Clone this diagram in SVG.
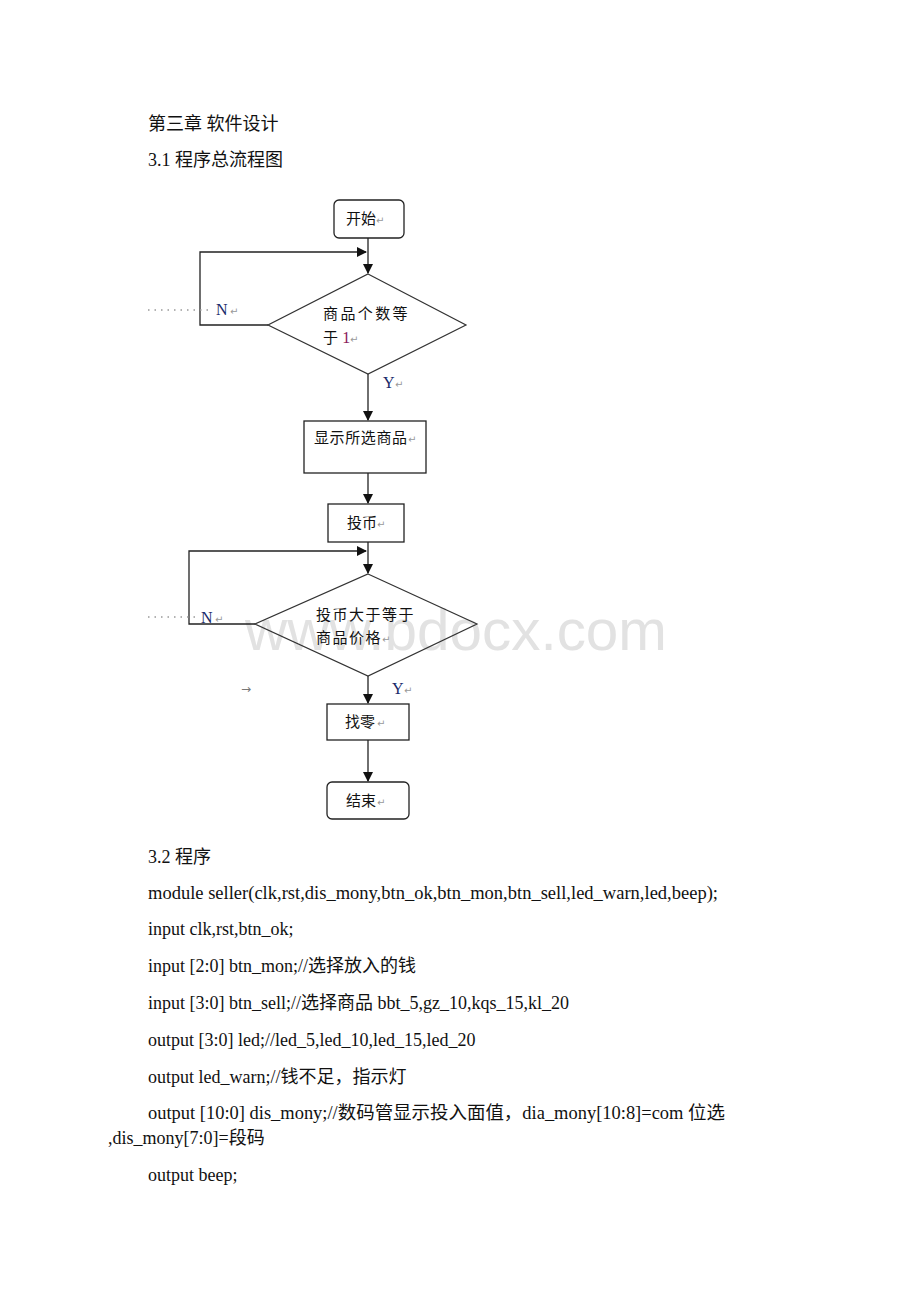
<svg xmlns="http://www.w3.org/2000/svg" width="920" height="1302" viewBox="0 0 920 1302">
<defs>
<marker id="ah" markerWidth="10" markerHeight="10" refX="9" refY="5" orient="auto" markerUnits="userSpaceOnUse">
<path d="M0,0 L10,5 L0,10 Z" fill="#111"/>
</marker>
<style>
.doc{font-family:"Liberation Serif","Noto Sans CJK SC",serif;font-size:18px;fill:#111}
.fc{font-family:"Liberation Sans","Noto Sans CJK SC",sans-serif;font-size:15px;fill:#111}
.lbl{font-family:"Liberation Serif",serif;font-size:16px;fill:#1a2a6a}
.pm{font-family:"DejaVu Sans",sans-serif;font-size:10px;fill:#999}
.box{fill:#fff;stroke:#222;stroke-width:1.3}
.dia{fill:none;stroke:#333;stroke-width:1.2}
.ln{fill:none;stroke:#222;stroke-width:1.3}
.dot{stroke:#999;stroke-width:1.4;stroke-dasharray:1.5,5}
.wm{font-family:"Liberation Sans",sans-serif;font-size:58px;fill:#e2e2e2}
</style>
</defs>
<rect width="920" height="1302" fill="#fff"/>

<text class="wm" x="245" y="650" textLength="422" lengthAdjust="spacingAndGlyphs">www.bdocx.com</text>

<g id="headings">
<text class="doc" x="148" y="130">第三章 软件设计</text>
<text class="doc" x="148" y="166">3.1 程序总流程图</text>
</g>

<g id="connectors">
<line class="ln" x1="368" y1="238" x2="368" y2="273" marker-end="url(#ah)"/>
<polyline class="ln" points="268,325 200,325 200,252 366,252" marker-end="url(#ah)"/>
<line class="ln" x1="368" y1="374" x2="368" y2="420" marker-end="url(#ah)"/>
<line class="ln" x1="368" y1="473" x2="368" y2="503" marker-end="url(#ah)"/>
<line class="ln" x1="368" y1="542" x2="368" y2="573" marker-end="url(#ah)"/>
<polyline class="ln" points="255,624 189,624 189,551 366,551" marker-end="url(#ah)"/>
<line class="ln" x1="368" y1="676" x2="368" y2="703" marker-end="url(#ah)"/>
<line class="ln" x1="368" y1="740" x2="368" y2="781" marker-end="url(#ah)"/>
<line class="dot" x1="148" y1="310" x2="212" y2="310"/>
<line class="dot" x1="148" y1="617" x2="198" y2="617"/>
<text class="lbl" x="216" y="315">N</text><text class="pm" x="230" y="315">↵</text>
<text class="lbl" x="383" y="388">Y</text><text class="pm" x="395" y="388">↵</text>
<text class="lbl" x="201" y="623">N</text><text class="pm" x="215" y="623">↵</text>
<text class="lbl" x="392" y="694">Y</text><text class="pm" x="404" y="694">↵</text>
<text x="241" y="693" style="font-family:'DejaVu Sans',sans-serif;font-size:12px;fill:#777">→</text>
</g>

<g id="start">
<rect class="box" x="334" y="200" width="70" height="38" rx="5"/>
<text class="fc" x="346" y="224">开始</text><text class="pm" x="376" y="224">↵</text>
</g>

<g id="check-count">
<polygon class="dia" points="368,274 466,325 368,374 268,325"/>
<text class="fc" x="323" y="319" letter-spacing="2.4">商品个数等</text>
<text class="fc" x="323" y="343">于 <tspan style="fill:#8a1a5a;font-family:'Liberation Serif',serif;font-size:16px">1</tspan></text><text class="pm" x="350" y="343">↵</text>
</g>

<g id="show">
<rect class="box" x="304" y="421" width="122" height="52"/>
<text class="fc" x="314" y="443" letter-spacing="0.6">显示所选商品</text><text class="pm" x="408" y="443">↵</text>
</g>

<g id="coin">
<rect class="box" x="328" y="504" width="76" height="38"/>
<text class="fc" x="347" y="528">投币</text><text class="pm" x="377" y="528">↵</text>
</g>

<g id="check-coin">
<polygon class="dia" points="368,574 477,624 368,676 255,624"/>
<text class="fc" x="316" y="620" letter-spacing="1.5">投币大于等于</text>
<text class="fc" x="316" y="643" letter-spacing="1.5">商品价格</text><text class="pm" x="382" y="643">↵</text>
</g>

<g id="change">
<rect class="box" x="327" y="704" width="82" height="36"/>
<text class="fc" x="345" y="727">找零</text><text class="pm" x="377" y="727">↵</text>
</g>

<g id="end">
<rect class="box" x="327" y="782" width="82" height="37" rx="5"/>
<text class="fc" x="346" y="806">结束</text><text class="pm" x="377" y="806">↵</text>
</g>

<g id="program">
<text class="doc" x="148" y="863">3.2 程序</text>
<text class="doc" x="148" y="899" textLength="570" lengthAdjust="spacingAndGlyphs">module seller(clk,rst,dis_mony,btn_ok,btn_mon,btn_sell,led_warn,led,beep);</text>
<text class="doc" x="148" y="935">input clk,rst,btn_ok;</text>
<text class="doc" x="148" y="972">input [2:0] btn_mon;//选择放入的钱</text>
<text class="doc" x="148" y="1009">input [3:0] btn_sell;//选择商品 bbt_5,gz_10,kqs_15,kl_20</text>
<text class="doc" x="148" y="1046">output [3:0] led;//led_5,led_10,led_15,led_20</text>
<text class="doc" x="148" y="1083">output led_warn;//钱不足，指示灯</text>
<text class="doc" x="148" y="1119" textLength="577" lengthAdjust="spacingAndGlyphs">output [10:0] dis_mony;//数码管显示投入面值，dia_mony[10:8]=com 位选</text>
<text class="doc" x="108" y="1144">,dis_mony[7:0]=段码</text>
<text class="doc" x="148" y="1181">output beep;</text>
</g>
</svg>
